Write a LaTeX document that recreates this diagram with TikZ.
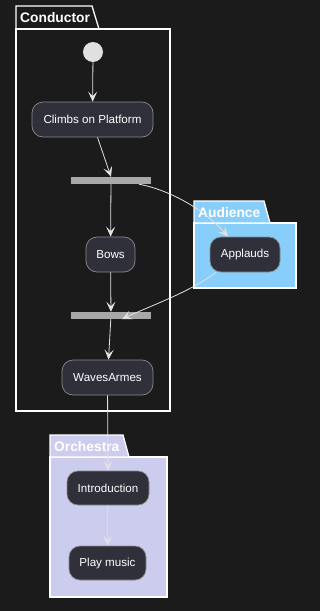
\documentclass[tikz,border=0pt]{standalone}
\usepackage{fontspec}
\setmainfont{Liberation Sans}
\usetikzlibrary{arrows.meta, positioning}
\definecolor{bgdark}{HTML}{1B1B1B}
\definecolor{actfill}{HTML}{30303A}
\definecolor{actline}{HTML}{8A8A8A}
\definecolor{barfill}{HTML}{A8A8A8}
\definecolor{arrowgray}{HTML}{E2E2E2}
\definecolor{startgray}{HTML}{E0E0E0}
\definecolor{audblue}{HTML}{87CEFA}
\definecolor{orchlav}{HTML}{CCCCEE}

\begin{document}
\begin{tikzpicture}[x=1pt, y=-1pt,
  act/.style={rectangle, draw=actline, fill=actfill, rounded corners=11pt, minimum height=35pt, font=\fontsize{11.6}{13}\selectfont, text=white, inner sep=0pt, line width=0.7pt},
  bar/.style={rectangle, fill=barfill, minimum width=80pt, minimum height=7pt, inner sep=0pt},
  pkg/.style={draw=white, line width=1.3pt},
  pkglabel/.style={font=\bfseries\fontsize{13.8}{15}\selectfont, text=white, anchor=west, inner sep=0pt},
  arr/.style={-{Stealth[length=10pt, width=9pt, inset=4.5pt]}, arrowgray, line width=0.8pt},
]
\fill[bgdark] (0,0) rectangle (320,611);
\useasboundingbox (0,0) rectangle (320,611);

% --- packages ---
\draw[pkg] (16,29) rectangle (170,411);
\draw[pkg] (16,29) -- (16,6) -- (92,6) -- (99,29);
\node[pkglabel] (conductor) at (20,18) {Conductor};

\filldraw[pkg, fill=audblue] (194,223) rectangle (296,288);
\filldraw[pkg, fill=audblue] (194,223) -- (194,201) -- (264,201) -- (270,223) -- cycle;
\node[pkglabel] (audience) at (198,213) {Audience};

\filldraw[pkg, fill=orchlav] (50,457) rectangle (167,597);
\filldraw[pkg, fill=orchlav] (50,457) -- (50,435) -- (123,435) -- (129,457) -- cycle;
\node[pkglabel] (orchestra) at (54,447) {Orchestra};

% --- activities ---
\node[circle, fill=startgray, minimum size=20pt, inner sep=0pt] (start) at (93,52) {};
\node[act, minimum width=121pt] (climbs) at (92.5,119.5) {Climbs on Platform};
\node[bar] (fork) at (111,180.5) {};
\node[act, minimum width=49pt] (bows) at (110.5,254.5) {Bows};
\node[act, minimum width=70pt] (applauds) at (245,254.5) {Applauds};
\node[bar] (join) at (111,315.5) {};
\node[act, minimum width=91pt] (waves) at (107.5,377.5) {WavesArmes};
\node[act, minimum width=82pt, minimum height=34pt] (intro) at (108,488) {Introduction};
\node[act, minimum width=77pt, minimum height=34pt] (play) at (107.5,563) {Play music};

% --- arrows ---
\draw[arr] (start) -- (climbs);
\draw[arr] ([xshift=5pt]climbs.south) -- (fork.north);
\draw[arr] (fork) -- (bows);
\draw[arr] ([xshift=28pt]fork.south) .. controls (170,190) and (205,210) .. ([xshift=-17pt]applauds.north);
\draw[arr] (bows) -- (join);
\draw[arr] ([xshift=-29pt]applauds.south) .. controls (190,292) and (150,306) .. ([xshift=11pt]join.south);
\draw[arr] (join) -- (waves);
\draw[arr] (waves) -- (intro);
\draw[arr] (intro) -- (play);
\end{tikzpicture}
\end{document}
